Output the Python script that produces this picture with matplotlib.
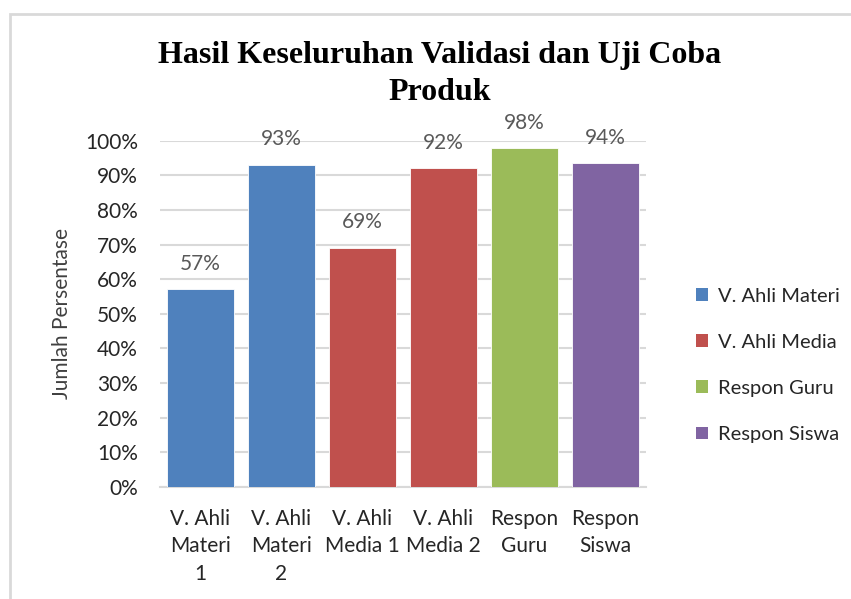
import matplotlib.pyplot as plt
from matplotlib.patches import Patch, Rectangle

# data
categories = ["V. Ahli\nMateri\n1", "V. Ahli\nMateri\n2", "V. Ahli\nMedia 1",
              "V. Ahli\nMedia 2", "Respon\nGuru", "Respon\nSiswa"]
values = [57.1, 93.1, 69.1, 92.0, 97.9, 93.6]
groups = ["V. Ahli Materi", "V. Ahli Materi", "V. Ahli Media",
          "V. Ahli Media", "Respon Guru", "Respon Siswa"]
legend_labels = ["V. Ahli Materi", "V. Ahli Media", "Respon Guru", "Respon Siswa"]
group_colors = {"V. Ahli Materi": "#4F81BD", "V. Ahli Media": "#C0504D",
                "Respon Guru": "#9BBB59", "Respon Siswa": "#8064A2"}
y_ticks = [0, 10, 20, 30, 40, 50, 60, 70, 80, 90, 100]

plt.rcParams['font.family'] = ['Lato', 'DejaVu Sans']
fs = 15

fig = plt.figure(figsize=(8.51, 5.99), dpi=100)
ax = fig.add_axes([0.188, 0.187, 0.571, 0.578])

# chart area border (only top and left visible in the crop)
fig.patches.append(Rectangle((10 / 851, -0.1), 1.2, 1.1 - 14 / 599,
                             transform=fig.transFigure, fill=False,
                             edgecolor="#d9d9d9", lw=2, zorder=0))

x = range(len(categories))
colors = [group_colors[g] for g in groups]
bars = ax.bar(x, values, width=0.82, color=colors, edgecolor="white",
              linewidth=0.6, zorder=3)

for b, v in zip(bars, values):
    ax.annotate(f"{v:.0f}%", (b.get_x() + b.get_width() / 2, v),
                xytext=(0, 11), textcoords="offset points",
                ha="center", va="bottom", fontsize=fs, color="#595959")

ax.set_xlim(-0.5, len(categories) - 0.5)
ax.set_ylim(0, 100)
ax.set_yticks(y_ticks)
ax.set_yticklabels([f"{t}%" for t in y_ticks], fontsize=fs, color="#262626")
ax.set_xticks(list(x))
ax.set_xticklabels(categories, fontsize=fs, color="#262626", linespacing=1.45)
ax.tick_params(length=0)
ax.tick_params(axis="x", pad=16)
ax.tick_params(axis="y", pad=16)
ax.yaxis.grid(True, color="#d9d9d9", lw=1.5, zorder=0)
ax.set_axisbelow(True)
for s in ["top", "right", "left"]:
    ax.spines[s].set_visible(False)
ax.spines["bottom"].set_color("#d9d9d9")
ax.spines["bottom"].set_linewidth(1.5)

ax.set_ylabel("Jumlah Persentase", fontsize=fs, color="#404040", labelpad=9)

fig.text(0.517, 0.876, "Hasil Keseluruhan Validasi dan Uji Coba\nProduk",
         ha="center", va="center", fontsize=23, fontweight="bold",
         family="Liberation Serif", linespacing=1.38)

handles = [Patch(facecolor=group_colors[g], edgecolor="none") for g in legend_labels]
fig.legend(handles, legend_labels, loc="center left",
           bbox_to_anchor=(0.797, 0.39), frameon=False, fontsize=14.5,
           labelspacing=1.45, handlelength=0.6, handleheight=0.6,
           handletextpad=0.45, labelcolor="#262626")

fig.savefig("out.png", dpi=100)
